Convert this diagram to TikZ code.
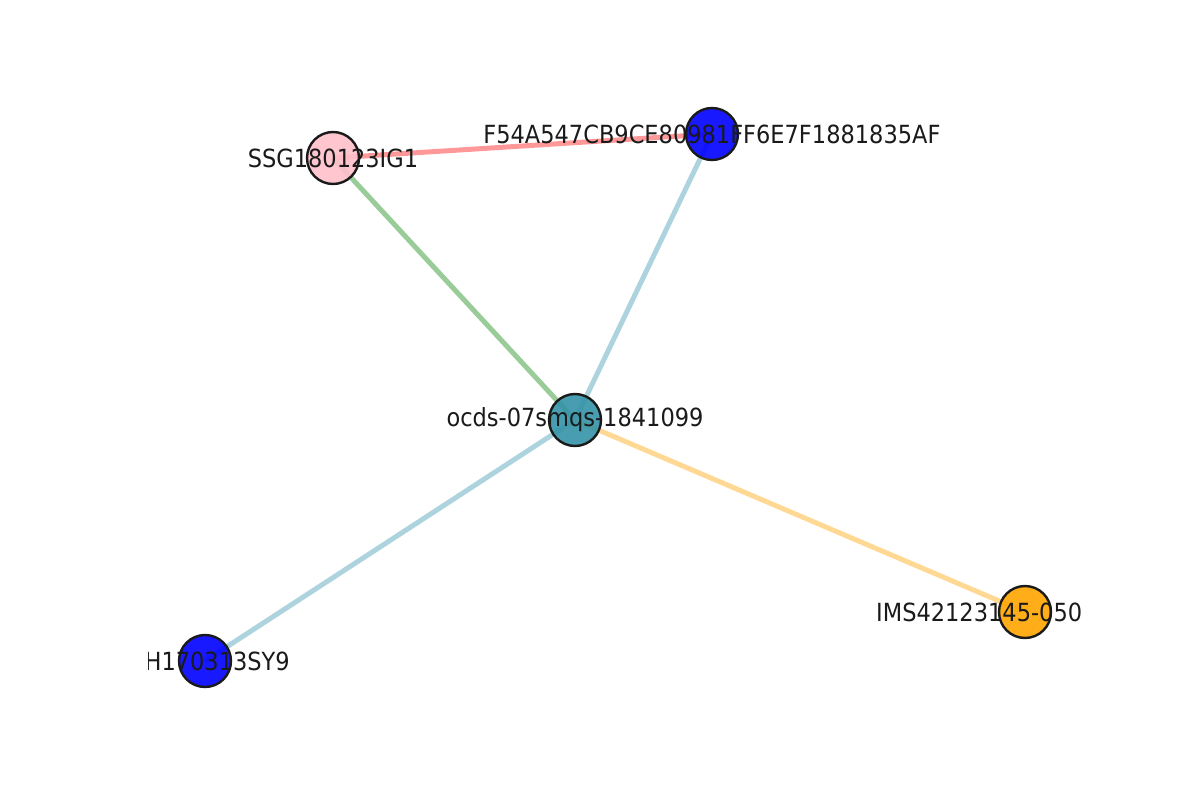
\documentclass[tikz,border=0pt]{standalone}
\usepackage{fontspec}
\setmainfont{DejaVu Sans}[FakeStretch=0.9]
\definecolor{eRed}{RGB}{255,153,153}
\definecolor{eGreen}{RGB}{153,204,153}
\definecolor{eBlue}{RGB}{173,212,222}
\definecolor{eOrange}{RGB}{255,217,148}
\definecolor{nPink}{RGB}{255,192,203}
\definecolor{nBlue}{RGB}{0,0,255}
\definecolor{nOrange}{RGB}{255,165,0}
\definecolor{nTeal}{RGB}{52,147,167}
\definecolor{lbl}{RGB}{26,26,26}
\tikzset{
  vert/.style={circle,draw=lbl,line width=2.4bp,minimum size=52bp,inner sep=0pt,fill opacity=0.9,draw opacity=1},
  edge/.style={line width=5bp},
  lab/.style={text=lbl,font=\fontsize{25.1}{28}\selectfont,inner sep=0pt}
}
\begin{document}
\begin{tikzpicture}[x=1bp,y=-1bp]
\useasboundingbox (0,0) rectangle (1200,800);
\coordinate (pS) at (333,158);
\coordinate (pF) at (712,134);
\coordinate (pC) at (575,420);
\coordinate (pH) at (205,661);
\coordinate (pI) at (1025,612);
\draw[edge,eRed] (pS) -- (pF);
\draw[edge,eGreen] (pS) -- (pC);
\draw[edge,eBlue] (pF) -- (pC);
\draw[edge,eBlue] (pC) -- (pH);
\draw[edge,eOrange] (pC) -- (pI);
\node[vert,fill=nPink] (S) at (pS) {};
\node[vert,fill=nBlue] (F) at (pF) {};
\node[vert,fill=nTeal] (C) at (pC) {};
\node[vert,fill=nBlue] (H) at (pH) {};
\node[vert,fill=nOrange] (I) at (pI) {};
\begin{scope}
\clip (148,96) rectangle (1080,704);
\node[lab] (lS) at (pS) {SSG180123IG1};
\node[lab] (lF) at (pF) {F54A547CB9CE80981FF6E7F1881835AF};
\node[lab] (lC) at (pC) {ocds-07smqs-1841099};
\node[lab,anchor=east] (lH) at ([xshift=85bp]pH) {H170313SY9};
\node[lab,anchor=west] (lI) at ([xshift=-149bp]pI) {IMS42123145-050};
\end{scope}
\end{tikzpicture}
\end{document}
